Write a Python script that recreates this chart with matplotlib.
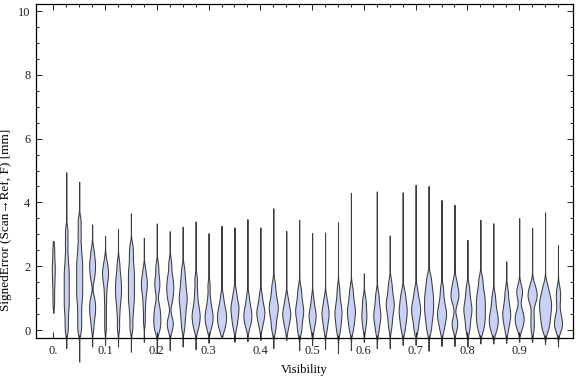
import numpy as np
import matplotlib
matplotlib.use("Agg")
import matplotlib.pyplot as plt
from matplotlib.ticker import FixedLocator, FixedFormatter, MultipleLocator

# visibility bin positions (one violin per bin)
visibility = [0.0, 0.025, 0.05, 0.075, 0.1, 0.125, 0.15, 0.175, 0.2, 0.225,
              0.25, 0.275, 0.3, 0.325, 0.35, 0.375, 0.4, 0.425, 0.45, 0.475,
              0.5, 0.525, 0.55, 0.575, 0.6, 0.625, 0.65, 0.675, 0.7, 0.725,
              0.75, 0.775, 0.8, 0.825, 0.85, 0.875, 0.9, 0.925, 0.95, 0.975]

bin_count = [45, 130, 168, 110, 73, 91, 132, 67, 107, 109,
             112, 89, 78, 85, 79, 69, 69, 103, 68, 90,
             60, 64, 78, 89, 49, 72, 90, 88, 95, 136,
             93, 90, 90, 135, 88, 82, 93, 87, 149, 82]

# smallest / largest signed error per bin [mm]
err_min = [0.54, -0.57, -0.99, -0.52, -0.47, -0.52, -0.68, -0.37, -0.72, -0.63,
           -0.52, -0.6, -0.4, -0.2, -0.37, -0.35, -0.31, -0.57, -0.31, -0.63,
           -0.47, -0.6, -0.73, -0.63, -0.37, -0.57, -0.57, -0.47, -0.47, -0.65,
           -0.5, -0.5, -0.52, -0.42, -0.42, -0.4, -0.37, -0.37, -0.44, -0.52]
err_max = [2.79, 4.94, 4.65, 3.31, 2.95, 3.17, 3.66, 2.89, 3.34, 3.1,
           3.24, 3.4, 3.03, 3.26, 3.21, 3.47, 3.21, 3.81, 3.1, 3.45,
           3.03, 3.05, 3.37, 4.3, 1.78, 4.34, 2.96, 4.31, 4.55, 4.51,
           4.07, 3.92, 2.82, 3.45, 3.34, 2.16, 3.5, 3.19, 3.68, 2.66]

# bulk of the signed error samples per bin [mm]
err_bulk = [
    [0.8, 1.1, 1.4, 1.6, 1.8, 1.95, 2.1, 2.35, 2.6],
    [0.0, 0.3, 0.6, 0.8, 1.0, 1.2, 1.4, 1.6, 1.8, 2.0, 2.3, 2.7, 3.1],
    [0.0, 0.3, 0.6, 0.9, 1.1, 1.3, 1.5, 1.7, 1.9, 2.1, 2.3, 2.6, 3.0, 3.4],
    [0.1, 0.4, 0.55, 0.7, 0.85, 1.0, 1.6, 1.8, 1.95, 2.1, 2.25, 2.5],
    [0.1, 0.5, 0.9, 1.2, 1.45, 1.6, 1.7, 1.8, 1.9, 2.0, 2.2],
    [0.1, 0.5, 0.8, 1.0, 1.15, 1.3, 1.45, 1.6, 1.8, 2.1],
    [0.1, 0.5, 0.8, 1.0, 1.2, 1.4, 1.6, 1.8, 2.0, 2.3, 2.6],
    [0.3, 0.7, 1.0, 1.2, 1.35, 1.45, 1.55, 1.7, 1.9],
    [0.0, 0.15, 0.3, 0.45, 0.6, 0.8, 1.25, 1.45, 1.65, 2.0],
    [0.05, 0.2, 0.35, 0.9, 1.1, 1.25, 1.4, 1.55, 1.75, 2.1],
    [0.1, 0.4, 0.6, 0.8, 0.95, 1.05, 1.2, 1.4, 1.6, 1.9],
    [0.05, 0.2, 0.35, 0.45, 0.55, 0.7, 0.9, 1.2, 1.6],
    [0.05, 0.2, 0.3, 0.4, 0.5, 0.6, 0.75, 1.0, 1.4],
    [0.0, 0.15, 0.25, 0.35, 0.45, 0.55, 0.65, 0.8, 1.05],
    [0.1, 0.3, 0.45, 0.6, 0.7, 0.8, 0.95, 1.2],
    [0.1, 0.25, 0.35, 0.45, 0.55, 0.65, 0.8, 1.05],
    [0.1, 0.3, 0.42, 0.52, 0.6, 0.7, 0.85, 1.1],
    [0.0, 0.2, 0.4, 0.55, 0.65, 0.75, 0.85, 1.0, 1.2, 1.45],
    [0.05, 0.25, 0.38, 0.47, 0.55, 0.65, 0.8, 1.0],
    [-0.05, 0.15, 0.35, 0.5, 0.6, 0.7, 0.85, 1.05, 1.3],
    [0.0, 0.2, 0.33, 0.42, 0.5, 0.6, 0.75, 1.0],
    [0.0, 0.2, 0.35, 0.47, 0.55, 0.65, 0.8, 1.0],
    [-0.05, 0.15, 0.3, 0.45, 0.55, 0.65, 0.8, 1.0, 1.3],
    [0.0, 0.2, 0.35, 0.5, 0.6, 0.7, 0.85, 1.05, 1.3],
    [0.05, 0.25, 0.4, 0.5, 0.65, 0.85, 1.0],
    [-0.05, 0.15, 0.3, 0.42, 0.5, 0.6, 0.75, 0.95, 1.15],
    [0.1, 0.35, 0.55, 0.7, 0.8, 0.9, 1.05, 1.25, 1.5],
    [0.0, 0.2, 0.35, 0.5, 0.6, 0.7, 0.85, 1.0, 1.2],
    [0.0, 0.2, 0.4, 0.52, 0.62, 0.72, 0.85, 1.0, 1.25],
    [0.0, 0.25, 0.45, 0.6, 0.75, 0.9, 1.05, 1.2, 1.4, 1.65],
    [0.0, 0.2, 0.35, 0.45, 0.55, 0.65, 0.8, 1.0, 1.3],
    [0.05, 0.2, 0.35, 0.85, 1.0, 1.1, 1.2, 1.35, 1.55],
    [0.0, 0.2, 0.4, 0.55, 0.65, 0.75, 0.9, 1.1, 1.35],
    [0.0, 0.2, 0.35, 0.5, 0.65, 0.8, 0.95, 1.1, 1.3, 1.6],
    [-0.05, 0.1, 0.2, 0.3, 0.4, 0.5, 0.65, 0.85, 1.1],
    [0.0, 0.2, 0.35, 0.45, 0.55, 0.65, 0.8, 1.0, 1.25],
    [0.05, 0.2, 0.3, 0.4, 0.5, 0.65, 1.05, 1.2, 1.35],
    [0.0, 0.25, 0.5, 0.85, 0.95, 1.05, 1.12, 1.2, 1.3, 1.45],
    [0.0, 0.15, 0.3, 0.42, 0.55, 0.65, 0.75, 0.85, 0.95, 1.05, 1.2, 1.4],
    [0.0, 0.1, 0.2, 0.3, 0.4, 0.6, 0.9, 1.1, 1.3],
]

x_ticks = [0.0, 0.1, 0.2, 0.3, 0.4, 0.5, 0.6, 0.7, 0.8, 0.9]
x_tick_labels = ["0.", "0.1", "0.2", "0.3", "0.4", "0.5", "0.6", "0.7", "0.8", "0.9"]
y_ticks = [0, 2, 4, 6, 8, 10]
y_tick_labels = ["0", "2", "4", "6", "8", "10"]

BANDWIDTH = 0.17

plt.rcParams['font.family'] = ['Liberation Serif', 'DejaVu Serif']
plt.rcParams['font.size'] = 9

fig = plt.figure(figsize=(5.76, 3.77), dpi=100)
ax = fig.add_axes([36 / 576, 39 / 377, 537 / 576, 334 / 377])


def smooth_density(samples, coords):
    s = np.asarray(samples)
    z = (coords[:, None] - s[None, :]) / BANDWIDTH
    return np.exp(-0.5 * z ** 2).sum(axis=1) / (len(s) * BANDWIDTH * np.sqrt(2 * np.pi))


# density from min to max of each bin, like a smooth-density distribution chart
stats = []
for lo, hi, bulk in zip(err_min, err_max, err_bulk):
    coords = np.linspace(lo, hi, 400)
    stats.append(dict(coords=coords, vals=smooth_density(bulk, coords),
                      mean=np.mean(bulk), median=np.median(bulk), min=lo, max=hi))

# width ~ count * density, with one shared scale for all bins
sizes = [n * s['vals'].max() for n, s in zip(bin_count, stats)]
scale = 0.0232 / max(sizes)
parts = ax.violin(stats, positions=visibility, widths=[w * scale for w in sizes],
                  showextrema=False)
for body in parts['bodies']:
    body.set_facecolor('#c9d1f4')
    body.set_edgecolor('#3c3c3c')
    body.set_linewidth(0.75)
    body.set_alpha(1)
    body.set_clip_on(False)

ax.set_xlim(-0.0334, 1.004)
ax.set_ylim(-0.25, 10.22)

ax.xaxis.set_major_locator(FixedLocator(x_ticks))
ax.xaxis.set_major_formatter(FixedFormatter(x_tick_labels))
ax.xaxis.set_minor_locator(FixedLocator(visibility))
ax.yaxis.set_major_locator(FixedLocator(y_ticks))
ax.yaxis.set_major_formatter(FixedFormatter(y_tick_labels))
ax.yaxis.set_minor_locator(MultipleLocator(0.5))

ax.tick_params(which='both', direction='in', top=True, right=True, width=0.7,
               labelsize=9, colors='#222222')
ax.tick_params(which='major', length=4)
ax.tick_params(which='minor', length=2.5)
ax.tick_params(axis='x', pad=5)
ax.tick_params(axis='y', pad=4)
for spine in ax.spines.values():
    spine.set_linewidth(0.9)

ax.set_xlabel("Visibility", fontsize=9, labelpad=5)
ax.set_ylabel("SignedError (Scan\u2192Ref, F) [mm]", fontsize=9.5)
ax.yaxis.set_label_coords(-0.045, 0.353)

fig.savefig("out.png", dpi=100)
